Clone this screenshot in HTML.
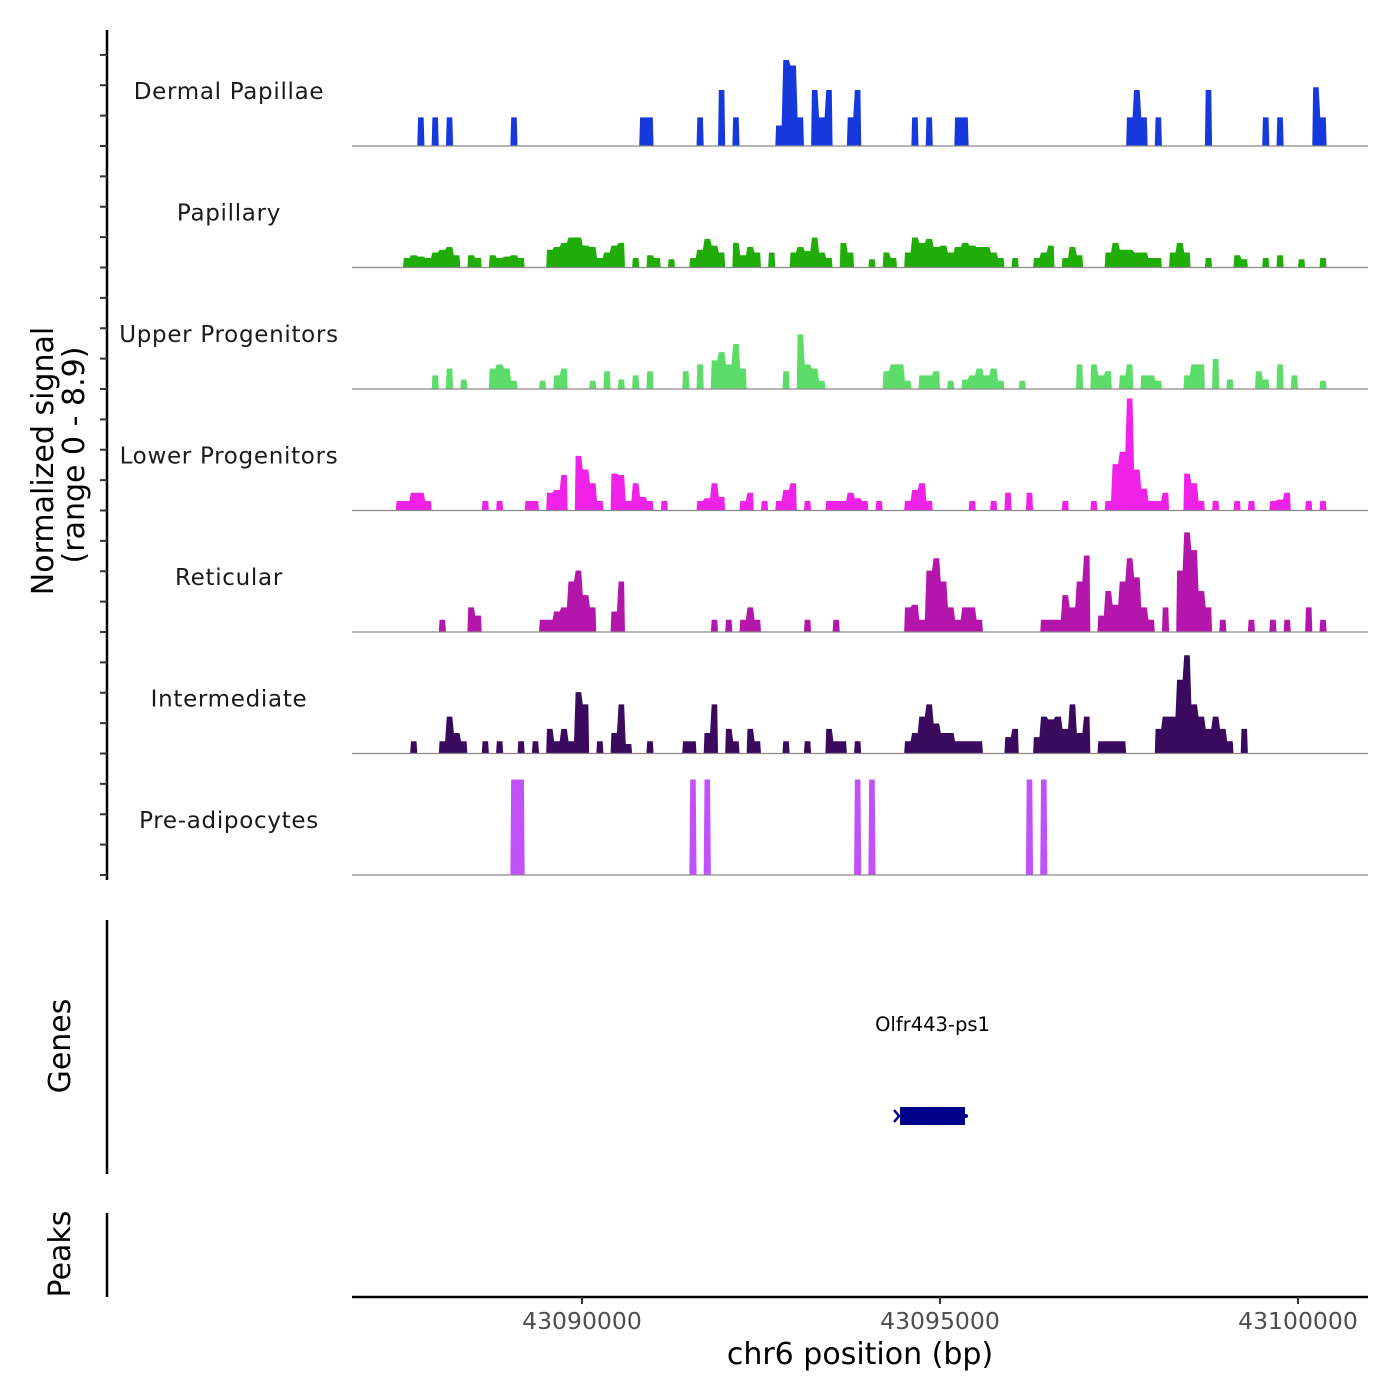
<!DOCTYPE html>
<html><head><meta charset="utf-8"><style>
html,body{margin:0;padding:0;background:#fff;}
svg{display:block;font-family:"DejaVu Sans","Liberation Sans",sans-serif;}
</style></head><body>
<svg id="chart" width="1400" height="1400" viewBox="0 0 1400 1400" xmlns="http://www.w3.org/2000/svg">
<rect width="1400" height="1400" fill="#fff"/>
<g id="tracks"></g>
<g id="yaxis"></g>
<text transform="translate(53,461) rotate(-90)" text-anchor="middle" font-size="30" fill="#000">Normalized signal</text>
<text transform="translate(84,455) rotate(-90)" text-anchor="middle" font-size="30" fill="#000">(range 0 - 8.9)</text>
<line x1="107" y1="920" x2="107" y2="1174" stroke="#000" stroke-width="2.5"/>
<text transform="translate(70,1046) rotate(-90)" text-anchor="middle" font-size="30" fill="#000">Genes</text>
<line x1="107" y1="1213" x2="107" y2="1297" stroke="#000" stroke-width="2.5"/>
<text transform="translate(70,1254) rotate(-90)" text-anchor="middle" font-size="30" fill="#000">Peaks</text>
<g id="genes"></g>
<g id="xaxis"></g>
<text x="860" y="1364" text-anchor="middle" font-size="30" fill="#000">chr6 position (bp)</text>
</svg>
<script>
const trackNames = ["Dermal Papillae","Papillary","Upper Progenitors","Lower Progenitors","Reticular","Intermediate","Pre-adipocytes"];
const trackColors = ["#1539dc","#21ad08","#5cdd6a","#f122e8","#b415aa","#3a0a5e","#c152fa"];
const dermalPos = [43087.7,43087.9,43088.1,43089.0,43090.8,43090.9,43091.6,43091.9,43092.1,43092.7,43092.8,43092.9,43093.0,43093.2,43093.3,43093.4,43093.7,43093.8,43094.6,43094.8,43095.2,43095.3,43097.6,43097.7,43097.8,43098.0,43098.7,43099.5,43099.7,43100.2,43100.3];
const dermalVal = [2.1,2.1,2.1,2.1,2.1,2.1,2.1,4.1,2.1,1.5,6.3,5.9,2.1,4.1,2.1,4.1,2.1,4.1,2.1,2.1,2.1,2.1,2.1,4.1,2.1,2.1,4.1,2.1,2.1,4.3,2.1];
const papPos = [43087.5,43087.6,43087.7,43087.8,43087.9,43088.0,43088.1,43088.2,43088.4,43088.5,43088.7,43088.8,43088.9,43089.0,43089.1,43089.5,43089.6,43089.7,43089.8,43089.9,43090.0,43090.1,43090.2,43090.3,43090.4,43090.5,43090.7,43090.9,43091.0,43091.2,43091.5,43091.6,43091.7,43091.8,43091.9,43092.1,43092.2,43092.3,43092.4,43092.6,43092.9,43093.0,43093.1,43093.2,43093.3,43093.4,43093.6,43093.7,43094.0,43094.2,43094.3,43094.5,43094.6,43094.7,43094.8,43094.9,43095.0,43095.1,43095.2,43095.3,43095.4,43095.5,43095.6,43095.7,43095.8,43096.0,43096.3,43096.4,43096.5,43096.7,43096.8,43096.9,43097.3,43097.4,43097.5,43097.6,43097.7,43097.8,43097.9,43098.0,43098.2,43098.3,43098.4,43098.7,43099.1,43099.2,43099.5,43099.7,43100.0,43100.3];
const papVal = [0.7,0.9,0.8,0.7,1.1,1.3,1.5,0.9,0.9,0.7,0.9,0.7,0.8,0.9,0.7,1.3,1.5,1.8,2.2,2.2,1.6,1.5,0.7,1.1,1.6,1.8,0.7,0.9,0.7,0.6,0.7,1.3,2.1,1.6,1.1,1.8,0.9,1.5,1.1,1.1,1.1,1.5,1.2,2.2,1.1,0.7,1.8,1.1,0.6,1.1,0.7,1.1,2.2,1.8,2.1,1.5,1.6,1.1,1.5,1.8,1.6,1.5,1.5,1.1,0.7,0.7,0.7,1.1,1.6,0.7,1.5,0.9,1.1,1.8,1.3,1.3,1.1,1.1,0.7,0.7,1.1,1.8,1.1,0.7,0.9,0.6,0.7,0.9,0.6,0.7];
const upperPos = [43087.9,43088.1,43088.3,43088.7,43088.8,43088.9,43089.0,43089.4,43089.6,43089.7,43090.1,43090.3,43090.5,43090.7,43090.9,43091.4,43091.6,43091.8,43091.9,43092.0,43092.1,43092.2,43092.8,43093.0,43093.1,43093.2,43093.3,43094.2,43094.3,43094.4,43094.5,43094.7,43094.8,43094.9,43095.1,43095.3,43095.4,43095.5,43095.6,43095.7,43095.8,43096.1,43096.9,43097.1,43097.2,43097.3,43097.5,43097.6,43097.8,43097.9,43098.0,43098.4,43098.5,43098.6,43098.8,43099.0,43099.4,43099.5,43099.7,43099.9,43100.3];
const upperVal = [1.0,1.5,0.7,1.5,1.8,1.5,0.6,0.6,1.0,1.5,0.6,1.3,0.7,1.0,1.3,1.3,1.8,2.1,2.7,1.8,3.3,1.5,1.3,4.0,1.8,1.5,0.6,1.3,1.8,1.8,0.6,1.0,1.0,1.3,0.6,0.7,1.0,1.5,1.0,1.5,0.6,0.6,1.8,1.8,1.0,1.3,1.0,1.8,1.0,1.0,0.6,1.0,1.8,1.8,2.2,0.7,1.3,0.7,1.8,1.0,0.6];
const lowerPos = [43087.4,43087.5,43087.6,43087.7,43087.8,43088.6,43088.8,43089.2,43089.3,43089.5,43089.6,43089.7,43089.9,43090.0,43090.1,43090.2,43090.4,43090.5,43090.6,43090.7,43090.8,43090.9,43091.1,43091.6,43091.7,43091.8,43091.9,43092.2,43092.3,43092.5,43092.7,43092.8,43092.9,43093.1,43093.4,43093.5,43093.6,43093.7,43093.8,43093.9,43094.1,43094.5,43094.6,43094.7,43094.8,43095.4,43095.7,43095.9,43096.2,43096.7,43097.1,43097.3,43097.4,43097.5,43097.6,43097.7,43097.8,43097.9,43098.0,43098.1,43098.4,43098.5,43098.6,43098.8,43099.1,43099.3,43099.6,43099.7,43099.8,43100.1,43100.3];
const lowerVal = [0.7,0.7,1.3,1.3,0.7,0.7,0.7,0.7,0.7,1.3,1.5,2.6,4.0,3.0,2.0,0.7,2.7,2.6,0.7,2.0,1.0,0.7,0.7,0.7,0.9,2.0,1.0,0.7,1.3,0.7,0.7,1.5,2.0,0.7,0.7,0.7,0.7,1.3,0.9,0.7,0.7,0.7,1.5,2.0,0.7,0.7,0.7,1.3,1.3,0.7,0.7,0.7,3.4,4.3,8.2,3.0,1.6,0.7,0.7,1.3,2.7,2.0,0.7,0.7,0.7,0.7,0.7,0.8,1.3,0.7,0.7];
const retPos = [43088.0,43088.4,43088.5,43089.4,43089.5,43089.6,43089.7,43089.8,43089.9,43090.0,43090.1,43090.4,43090.5,43091.8,43092.0,43092.2,43092.3,43092.4,43093.1,43093.5,43094.5,43094.6,43094.7,43094.8,43094.9,43095.0,43095.1,43095.2,43095.3,43095.4,43095.5,43096.4,43096.5,43096.6,43096.7,43096.8,43096.9,43097.0,43097.2,43097.3,43097.4,43097.5,43097.6,43097.7,43097.8,43097.9,43098.1,43098.3,43098.4,43098.5,43098.6,43098.7,43098.9,43099.3,43099.6,43099.8,43100.1,43100.3];
const retVal = [0.9,1.8,1.2,0.9,0.9,1.5,1.8,3.7,4.5,2.7,1.8,1.5,3.7,0.9,0.9,0.9,1.8,0.9,0.9,0.9,1.8,2.0,0.9,4.5,5.4,3.7,1.8,0.9,1.8,1.8,0.9,0.9,0.9,0.9,2.7,1.8,3.7,5.6,1.2,3.0,2.0,3.7,5.4,4.0,1.8,0.9,1.8,4.5,7.3,6.0,3.0,1.8,0.9,0.9,0.9,0.9,1.8,0.9];
const intPos = [43087.6,43088.0,43088.1,43088.2,43088.3,43088.6,43088.8,43089.1,43089.3,43089.5,43089.6,43089.7,43089.8,43089.9,43090.0,43090.2,43090.4,43090.5,43090.6,43090.9,43091.4,43091.5,43091.7,43091.8,43092.0,43092.1,43092.3,43092.4,43092.8,43093.1,43093.4,43093.5,43093.6,43093.8,43094.5,43094.6,43094.7,43094.8,43094.9,43095.0,43095.1,43095.2,43095.3,43095.4,43095.5,43095.9,43096.0,43096.3,43096.4,43096.5,43096.6,43096.7,43096.8,43096.9,43097.0,43097.2,43097.3,43097.4,43097.5,43098.0,43098.1,43098.2,43098.3,43098.4,43098.5,43098.6,43098.7,43098.8,43098.9,43099.0,43099.2];
const intVal = [0.9,0.9,2.7,1.5,0.9,0.9,0.9,0.9,0.9,1.8,0.9,1.8,0.9,4.5,3.6,0.9,1.5,3.6,0.7,0.9,0.9,0.9,1.5,3.6,1.8,0.9,1.8,0.9,0.9,0.9,1.8,0.9,0.9,0.9,0.9,1.5,2.7,3.6,2.2,1.5,1.5,0.9,0.9,0.9,0.9,1.2,1.8,1.2,2.7,2.5,2.7,1.8,3.6,1.5,2.7,0.9,0.9,0.9,0.9,1.8,2.7,2.7,5.4,7.2,3.6,2.7,1.8,2.7,1.8,0.9,1.8];
const prePos = [43089.0,43089.1,43091.5,43091.7,43093.8,43094.0,43096.2,43096.4];
const preVal = [7.0,7.0,7.0,7.0,7.0,7.0,7.0,7.0];
const xTicks = [43090000,43095000,43100000];
const xTickLabels = ["43090000","43095000","43100000"];
const geneNames = ["Olfr443-ps1"];
const geneStart = [43094442];
const geneEnd = [43095349];

const NS = "http://www.w3.org/2000/svg";
const X0 = 352, X1 = 1368, BP0 = 43086788, PXPERBP = 0.0716, BIN = 100;
function xScale(bp){ return X0 + (bp - BP0) * PXPERBP; }
const YMAX = 8.9, TRACK_H = 121.5, TOP = 24.5;
function baseY(t){ return TOP + TRACK_H * (t + 1); }
function yScale(v, t){ return baseY(t) - v / YMAX * TRACK_H; }
function mk(tag, attrs, parent){ const e = document.createElementNS(NS, tag); for (const k in attrs) e.setAttribute(k, attrs[k]); parent.appendChild(e); return e; }

const posSets = [dermalPos, papPos, upperPos, lowerPos, retPos, intPos, prePos];
const valSets = [dermalVal, papVal, upperVal, lowerVal, retVal, intVal, preVal];
const tracksG = document.getElementById('tracks');
const S = 0.8;
for (let t = 0; t < 7; t++){
  const g = mk('g', {}, tracksG);
  
  
  const b = baseY(t);
  const P = posSets[t], V = valSets[t];
  let d = '';
  let i = 0;
  while (i < P.length){
    let j = i;
    while (j + 1 < P.length && Math.abs((P[j+1] - P[j]) * 1000 - BIN) < 1) j++;
    let xs = xScale(P[i] * 1000);
    d += 'M' + xs.toFixed(2) + ' ' + b;
    for (let k = i; k <= j; k++){
      const xa = xScale(P[k] * 1000), xb = xScale(P[k] * 1000 + BIN);
      const y = yScale(V[k], t).toFixed(2);
      d += 'L' + (xa + S).toFixed(2) + ' ' + y + 'L' + (xb - S).toFixed(2) + ' ' + y;
    }
    d += 'L' + xScale(P[j] * 1000 + BIN).toFixed(2) + ' ' + b + 'Z';
    i = j + 1;
  }
  const p = mk('path', {d: d, fill: trackColors[t]}, g);
  
  
  const bl = mk('line', {x1: X0, x2: X1, y1: b, y2: b, stroke: '#8a8a8a', 'stroke-width': 1.2}, g);
  
  
  const lab = mk('text', {x: 229, y: b - 47, 'text-anchor': 'middle', 'font-size': 23, fill: '#1a1a1a', 'letter-spacing': '0.7'}, g);
  lab.textContent = trackNames[t];
  
  
}
const ya = document.getElementById('yaxis');
const al = mk('line', {x1: 107, x2: 107, y1: 30, y2: 880, stroke: '#000', 'stroke-width': 2.5}, ya);


for (let t = 0; t < 7; t++){
  for (let k = 0; k < 4; k++){
    const y = baseY(t) - k * TRACK_H / 4;
    const tk = mk('line', {x1: 100, x2: 107, y1: y, y2: y, stroke: '#333', 'stroke-width': 2}, ya);
    
    
  }
}
const gg = document.getElementById('genes');
for (let i = 0; i < geneNames.length; i++){
  const xa = xScale(geneStart[i]), xb = xScale(geneEnd[i]);
  const r = mk('rect', {x: xa, y: 1107, width: xb - xa, height: 18, fill: '#00008b'}, gg);
  
  
  const ar = mk('path', {d: 'M' + (xa - 6) + ' 1110 L' + (xa - 1) + ' 1116 L' + (xa - 6) + ' 1122', stroke: '#00008b', 'stroke-width': 2.5, fill: 'none'}, gg);
  
  
  const dt = mk('circle', {cx: xb + 1, cy: 1116, r: 2, fill: '#00008b'}, gg);
  
  
  const tx = mk('text', {x: (xa + xb) / 2, y: 1031, 'text-anchor': 'middle', 'font-size': 19.5, fill: '#000'}, gg);
  tx.textContent = geneNames[i];
  
  
}
const xa = document.getElementById('xaxis');
const xl = mk('line', {x1: X0, x2: X1, y1: 1297, y2: 1297, stroke: '#000', 'stroke-width': 2.5}, xa);


for (let i = 0; i < xTicks.length; i++){
  const x = xScale(xTicks[i]);
  const tk = mk('line', {x1: x, x2: x, y1: 1297, y2: 1304, stroke: '#333', 'stroke-width': 2}, xa);
  
  
  const tl = mk('text', {x: x, y: 1329, 'text-anchor': 'middle', 'font-size': 23.5, fill: '#4d4d4d'}, xa);
  tl.textContent = xTickLabels[i];
  
  
}
</script>
</body></html>
